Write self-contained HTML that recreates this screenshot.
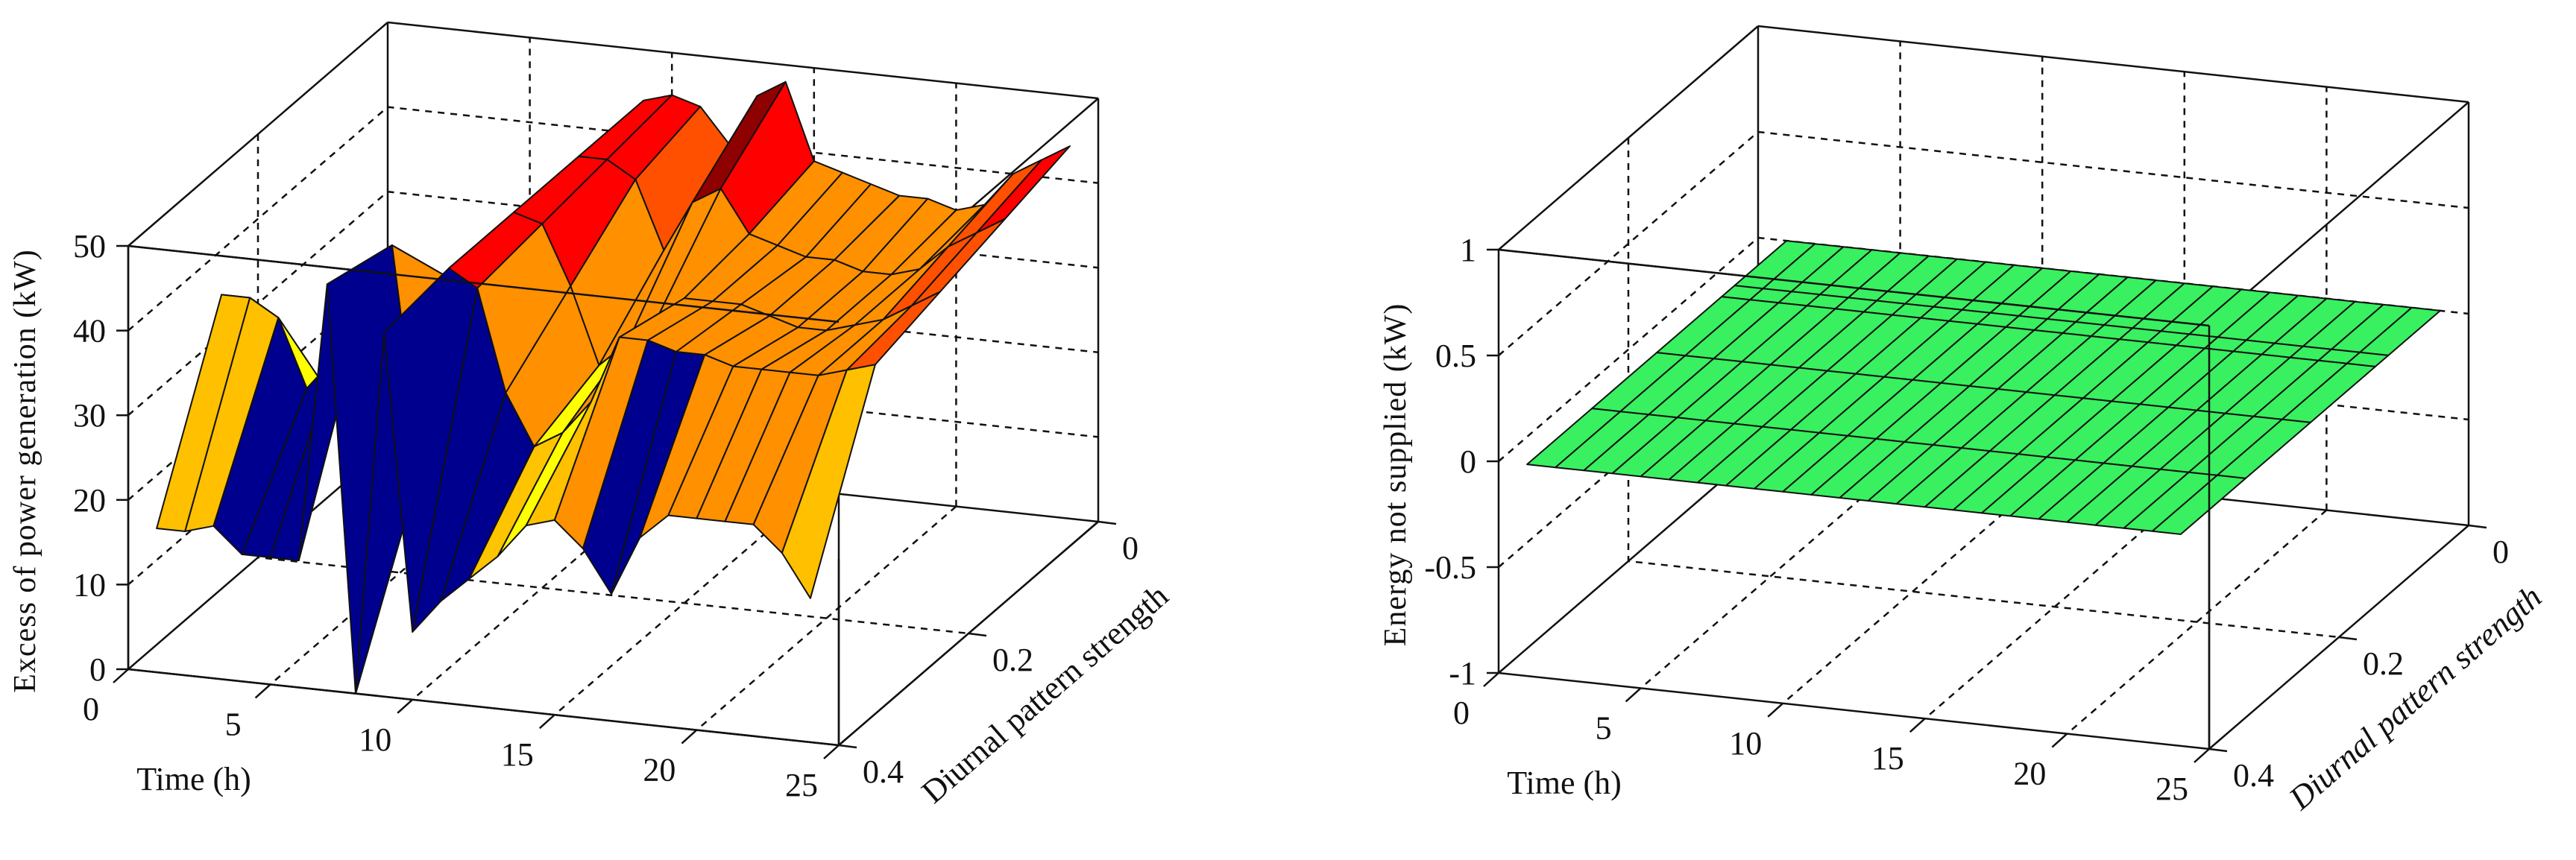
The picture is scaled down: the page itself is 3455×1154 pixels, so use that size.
<!DOCTYPE html>
<html><head><meta charset="utf-8">
<style>
html,body{margin:0;padding:0;background:#fff;}
svg{display:block;}
text{font-family:"Liberation Serif","DejaVu Serif",serif;fill:#111;}
</style></head>
<body>
<svg id="fig" width="3455" height="1154" viewBox="0 0 3455 1154" xmlns="http://www.w3.org/2000/svg">
  <g id="plotL"></g>
  <g id="plotR"></g>
</svg>
<script>
// ---- data ----
const timeTicks = [0, 5, 10, 15, 20, 25];
const diurnalTicks = [0, 0.2, 0.4];
const leftZTicks = [0, 10, 20, 30, 40, 50];
const rightZTicks = [-1, -0.5, 0, 0.5, 1];
const surfTimes = [1,2,3,4,5,6,7,8,9,10,11,12,13,14,15,16,17,18,19,20,21,22,23,24];
const leftDiurnal = [0, 0.1, 0.2, 0.3, 0.4];
const excessD000 = [18,18,18,18,20,22,30,40,44,45,44,40,46,48,39,38,37,36,36,35,36,40,42,44];
const excessD010 = [18,18,18,18,20,22,30,38,44,44,42,34,40,42,37,36,35,35,34,34,35,38,40,42];
const excessD020 = [18,18,18,20,22,25,35,30,44,43,36,27,30,33,36,36,36,35,34,34,35,36,38,40];
const excessD030 = [38,38,36,28,32,38,46,20,44,42,30,24,26,30,38,38,37,37,36,36,36,36,37,38];
const excessD040 = [17,17,18,15,15,15,48,0,43,8,12,15,18,22,23,20,15,22,25,25,25,25,22,17];
const rightDiurnal = [0, 0.08, 0.1, 0.2, 0.3, 0.4];
const ensRow = [0,0,0,0,0,0,0,0,0,0,0,0,0,0,0,0,0,0,0,0,0,0,0,0];

const NS = "http://www.w3.org/2000/svg";
function mk(parent, tag, attrs){
  const e = document.createElementNS(NS, tag);
  for (const k in attrs) e.setAttribute(k, attrs[k]);
  parent.appendChild(e);
  return e;
}

function makeAxes(ox, oy, zmin, zmax){
  const TV=[953,102], DV=[348,-300], ZH=568;
  return function(t, d, z){
    const ft=t/25, fd=(0.4-d)/0.4, fz=(z-zmin)/(zmax-zmin);
    return [ox+ft*TV[0]+fd*DV[0], oy+ft*TV[1]+fd*DV[1]-fz*ZH];
  };
}

function drawFrame(g, P, zmin, zmax, zTicks, prefix){
  const dash = {stroke:"#111","stroke-width":2.5,"stroke-dasharray":"9 8",fill:"none"};
  timeTicks.slice(1,-1).forEach(t=>{
    const a=P(t,0,zmin), b=P(t,0,zmax);
    const l=mk(g,"line",Object.assign({x1:a[0],y1:a[1],x2:b[0],y2:b[1]},dash));
    
    
    const c=P(t,0.4,zmin);
    const l2=mk(g,"line",Object.assign({x1:a[0],y1:a[1],x2:c[0],y2:c[1]},dash));
    
    
  });
  zTicks.slice(1,-1).forEach(z=>{
    const a=P(0,0.4,z), b=P(0,0,z), c=P(25,0,z);
    const l=mk(g,"polyline",Object.assign({points:a.join(",")+" "+b.join(",")+" "+c.join(",")},dash));
    
    
  });
  {
    const a=P(0,0.2,zmax), b=P(0,0.2,zmin), c=P(25,0.2,zmin);
    const l=mk(g,"polyline",Object.assign({points:a.join(",")+" "+b.join(",")+" "+c.join(",")},dash));
    
    
  }
  const C = (t,d,z)=>P(t,d,z);
  const edges = [
    [C(0,0.4,zmin),C(25,0.4,zmin)],[C(25,0.4,zmin),C(25,0,zmin)],[C(0,0.4,zmin),C(0,0,zmin)],[C(0,0,zmin),C(25,0,zmin)],
    [C(0,0.4,zmax),C(25,0.4,zmax)],[C(25,0.4,zmax),C(25,0,zmax)],[C(0,0.4,zmax),C(0,0,zmax)],[C(0,0,zmax),C(25,0,zmax)],
    [C(0,0.4,zmin),C(0,0.4,zmax)],[C(25,0.4,zmin),C(25,0.4,zmax)],[C(0,0,zmin),C(0,0,zmax)],[C(25,0,zmin),C(25,0,zmax)]
  ];
  edges.forEach(e=>{
    const l=mk(g,"line",{x1:e[0][0],y1:e[0][1],x2:e[1][0],y2:e[1][1],stroke:"#111","stroke-width":2.5});
    
    
  });
}

function drawLabels(g, P, zmin, zmax, zTicks, zTitle, dItalic, prefix){
  zTicks.forEach(z=>{
    const p=P(0,0.4,z);
    const l=mk(g,"line",{x1:p[0]-16,y1:p[1],x2:p[0],y2:p[1],stroke:"#111","stroke-width":2.5});
    
    
    const t=mk(g,"text",{x:p[0]-30,y:p[1]+15,"font-size":44,"text-anchor":"end"});
    t.textContent=String(z);
    
    
  });
  timeTicks.forEach(tv=>{
    const p=P(tv,0.4,zmin);
    const l=mk(g,"line",{x1:p[0],y1:p[1],x2:p[0]-20,y2:p[1]+18,stroke:"#111","stroke-width":2.5});
    
    
    const t=mk(g,"text",{x:p[0]-50,y:p[1]+68,"font-size":44,"text-anchor":"middle"});
    t.textContent=String(tv);
    
    
  });
  diurnalTicks.forEach(dv=>{
    const p=P(25,dv,zmin);
    const l=mk(g,"line",{x1:p[0],y1:p[1],x2:p[0]+24,y2:p[1]+3,stroke:"#111","stroke-width":2.5});
    
    
    const t=mk(g,"text",{x:p[0]+32,y:p[1]+50,"font-size":44,"text-anchor":"start"});
    t.textContent=String(dv);
    
    
  });
  const o=P(0,0.4,zmin), top=P(0,0.4,zmax);
  const tt=mk(g,"text",{x:o[0]+88,y:o[1]+162,"font-size":44,"text-anchor":"middle"});
  tt.textContent="Time (h)";
  
  
  const zx=o[0]-125, zy=(o[1]+top[1])/2+18;
  const zt=mk(g,"text",{x:0,y:0,"font-size":42,"text-anchor":"middle",transform:`translate(${zx},${zy}) rotate(-90)`,"letter-spacing":"1"});
  zt.textContent=zTitle;
  
  
  const dc=P(25,0.2,zmin);
  const dt=mk(g,"text",{x:0,y:0,"font-size":44,"text-anchor":"middle",transform:`translate(${dc[0]+112},${dc[1]+92}) rotate(-41)`});
  if(dItalic) dt.setAttribute("font-style","italic");
  dt.textContent="Diurnal pattern strength";
  
  
}

function excessColor(vals){
  const mn=Math.min(...vals), mx=Math.max(...vals), m=vals.reduce((a,b)=>a+b,0)/vals.length;
  if (mx-mn>12 && mn<16) return "#00008f";
  if (mx>=47.5 && mn>=38) return "#8f0000";
  if (m<22) return "#ffc400";
  if (m<24) return "#a8ff20";
  if (m<27) return "#ffff00";
  if (m<29) return "#ffc000";
  if (m<38) return "#ff9000";
  if (m<41) return "#ff5000";
  if (m<46) return "#ff0000";
  return "#8f0000";
}

function drawSurface(g, P, ds, rows, colorFn, name){
  const faces=[];
  for(let i=0;i<ds.length-1;i++){
    for(let j=0;j<surfTimes.length-1;j++){
      const t0=surfTimes[j], t1=surfTimes[j+1], d0=ds[i], d1=ds[i+1];
      const v=[rows[i][j],rows[i][j+1],rows[i+1][j+1],rows[i+1][j]];
      const pts=[P(t0,d0,v[0]),P(t1,d0,v[1]),P(t1,d1,v[2]),P(t0,d1,v[3])];
      const depth=4.1*(t0+t1)/2 + 750*(d0+d1)/2;
      faces.push({pts,v,depth});
    }
  }
  faces.sort((a,b)=>a.depth-b.depth);
  faces.forEach(f=>{
    const p=mk(g,"polygon",{points:f.pts.map(q=>q[0].toFixed(1)+","+q[1].toFixed(1)).join(" "),fill:colorFn(f.v),stroke:"#111","stroke-width":2,"stroke-linejoin":"round"});
    
    
  });
}

// Left plot
const gL=document.getElementById("plotL");
const PL=makeAxes(172,898,0,50);
drawFrame(gL,PL,0,50,leftZTicks,"left-");
drawSurface(gL,PL,leftDiurnal,[excessD000,excessD010,excessD020,excessD030,excessD040],excessColor,"excess-surface-face");
[[PL(0,0.4,0),PL(25,0.4,0)],[PL(25,0.4,0),PL(25,0,0)],[PL(0,0.4,0),PL(0,0.4,50)],[PL(0,0.4,50),PL(25,0.4,50)],[PL(25,0.4,0),PL(25,0.4,22)]].forEach(e=>{
  const l=mk(gL,"line",{x1:e[0][0],y1:e[0][1],x2:e[1][0],y2:e[1][1],stroke:"#111","stroke-width":2.5});
  
  
});
drawLabels(gL,PL,0,50,leftZTicks,"Excess of power generation (kW)",false,"left-");

// Right plot
const gR=document.getElementById("plotR");
const PR=makeAxes(2010,903,-1,1);
drawFrame(gR,PR,-1,1,rightZTicks,"right-");
drawSurface(gR,PR,rightDiurnal,rightDiurnal.map(()=>ensRow),()=>"#38f060","ens-surface-face");
[[PR(25,0.4,-1),PR(25,0.4,1)],[PR(0,0.4,1),PR(25,0.4,1)]].forEach(e=>{
  const l=mk(gR,"line",{x1:e[0][0],y1:e[0][1],x2:e[1][0],y2:e[1][1],stroke:"#111","stroke-width":2.5});
  
  
});
drawLabels(gR,PR,-1,1,rightZTicks,"Energy not supplied (kW)",true,"right-");
</script>
</body></html>
